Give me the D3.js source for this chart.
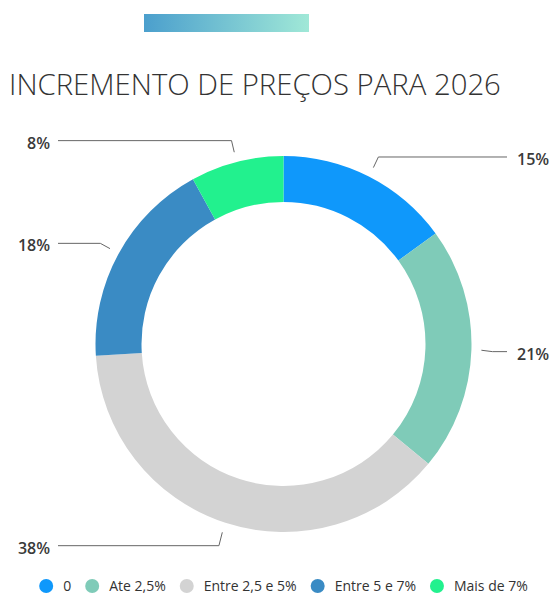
<!DOCTYPE html>
<html>
<head>
<meta charset="utf-8">
<script src="https://cdn.jsdelivr.net/npm/d3@7"></script>
<style>
  body { margin: 0; background: #fff; }
  svg { display: block; font-family: "Open Sans", sans-serif; }
</style>
</head>
<body>
<div class="chart"></div>
<script>
(function() {

// data
  var categories = ['0', 'Ate 2,5%', 'Entre 2,5 e 5%', 'Entre 5 e 7%', 'Mais de 7%'];
  var values = [15, 21, 38, 18, 8];
  var colors = ['#0f98fb', '#7fcbb8', '#d3d3d3', '#3a8bc4', '#22f18e'];
  var title = 'INCREMENTO DE PREÇOS PARA 2026';

  var width = 553, height = 595;
  var cx = 283.5, cy = 344;
  var outerR = 188, innerR = 142;

  var svg = d3.select('.chart')
    .append('svg')
    .attr('width', width)
    .attr('height', height);

// gradient bar on top
  var grad = svg.append('defs').append('linearGradient')
    .attr('id', 'topbar');
  grad.append('stop').attr('offset', '0%').attr('stop-color', '#4b9fcd');
  grad.append('stop').attr('offset', '100%').attr('stop-color', '#a0e8d7');

  svg.append('rect')
    .attr('x', 144)
    .attr('y', 14)
    .attr('width', 165)
    .attr('height', 18)
    .attr('fill', 'url(#topbar)');

  svg.append('text')
    .attr('x', 9)
    .attr('y', 95)
    .attr('fill', '#333')
    .style('font-size', '29.3px')
    .style('font-weight', 300)
    .text(title);

// donut
  var color = d3.scaleOrdinal().domain(categories).range(colors);
  var pie = d3.pie().sort(null).value(function(d) { return d.value; });
  var arc = d3.arc().innerRadius(innerR).outerRadius(outerR);

  var data = categories.map(function(c, i) { return { name: c, value: values[i] }; });
  var arcs = pie(data);

  var g = svg.append('g').attr('transform', 'translate(' + cx + ',' + cy + ')');

  g.selectAll('path').data(arcs).enter()
    .append('path')
    .attr('d', arc)
    .attr('fill', function(d) { return color(d.data.name); });

// labels with connectors
  var total = d3.sum(values);
  var leftX = 58 - cx, rightX = 507 - cx;

  arcs.forEach(function(d) {
    var a = (d.startAngle + d.endAngle) / 2;
    var sx = Math.sin(a) * (outerR + 10), sy = -Math.cos(a) * (outerR + 10);
    var ly = -Math.cos(a) * (outerR + 23) + 1;
    var right = Math.sin(a) > 0;
    var ex = sx + Math.sin(a) * 11;
    var endX = right ? rightX : leftX;

    g.append('path')
      .attr('d', 'M' + sx + ',' + sy + 'L' + ex + ',' + ly + 'L' + endX + ',' + ly)
      .attr('fill', 'none')
      .attr('stroke', '#666')
      .attr('stroke-width', 1);

    g.append('text')
      .attr('x', right ? endX + 10 : endX - 8)
      .attr('y', ly)
      .attr('dy', '0.5em')
      .attr('text-anchor', right ? 'start' : 'end')
      .attr('fill', '#3a3a3a')
      .style('font-size', '16px')
      .style('font-weight', 600)
      .text(Math.round(d.data.value / total * 100) + '%');
  });

// legend
  var legend = svg.append('g');
  var items = legend.selectAll('g').data(categories).enter().append('g');

  items.append('circle')
    .attr('r', 7)
    .attr('cy', 0)
    .attr('fill', function(d) { return color(d); });

  items.append('text')
    .attr('x', 17)
    .attr('dy', '0.36em')
    .attr('fill', '#333')
    .style('font-size', '14px')
    .text(function(d) { return d; });

  var pos = 0;
  items.each(function() {
    var w = d3.select(this).select('text').node().getComputedTextLength();
    d3.select(this).attr('transform', 'translate(' + pos + ',0)');
    pos += 17 + w + 21;
  });
  var legW = pos - 21 + 7;
  legend.attr('transform', 'translate(' + (cx - legW / 2 + 7) + ',586)');

})();
</script>
</body>
</html>
